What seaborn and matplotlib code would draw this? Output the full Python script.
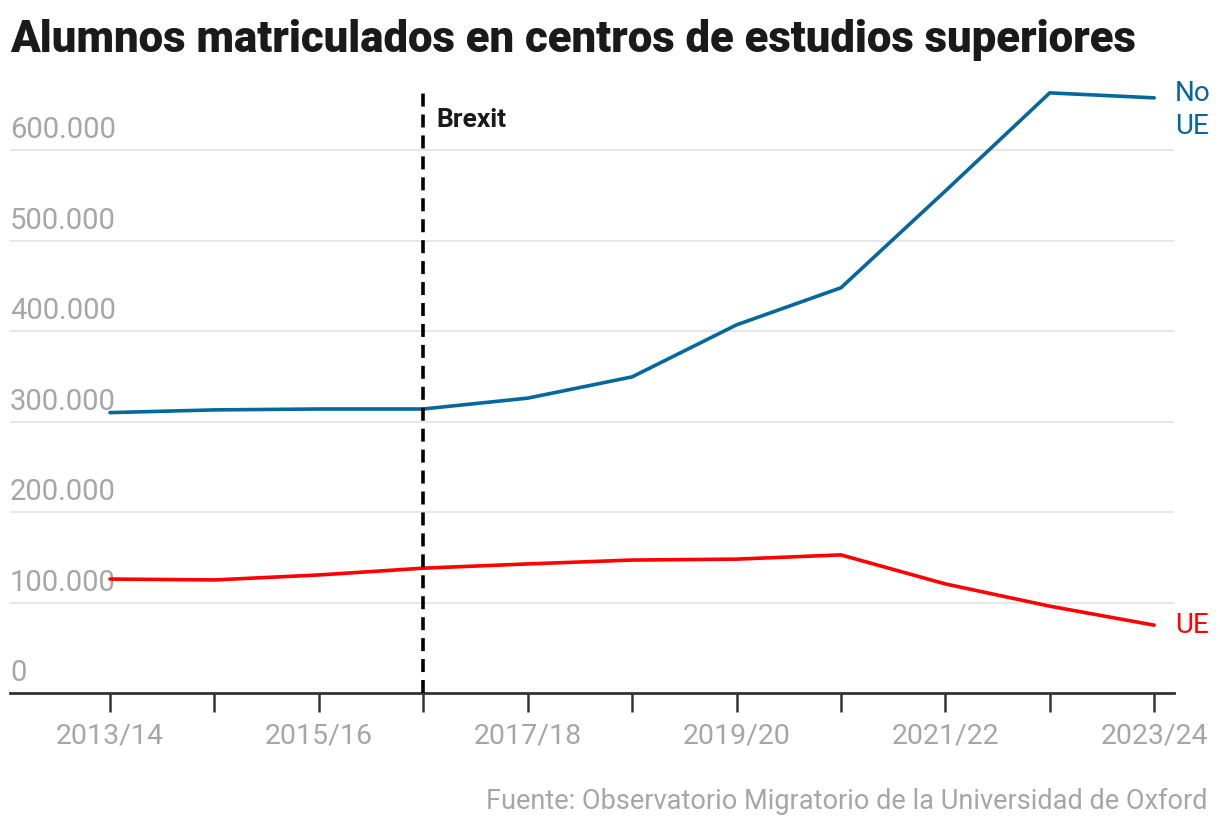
import numpy as np
import pandas as pd
import matplotlib
matplotlib.use("Agg")
import matplotlib.pyplot as plt
import seaborn as sns

# datos
cursos = ['2013/14', '2014/15', '2015/16', '2016/17', '2017/18', '2018/19',
          '2019/20', '2020/21', '2021/22', '2022/23', '2023/24']
no_ue = [310000, 313000, 314000, 314000, 326000, 349500,
         407000, 448000, 555000, 663500, 658000]
ue = [126000, 125000, 130500, 138000, 142700, 147000,
      148000, 152700, 120600, 96000, 75000]
y_ticks = [0, 100000, 200000, 300000, 400000, 500000, 600000]
brexit_curso = '2016/17'

df = pd.DataFrame({
    'curso': cursos * 2,
    'x': list(range(len(cursos))) * 2,
    'alumnos': no_ue + ue,
    'grupo': ['No UE'] * len(cursos) + ['UE'] * len(cursos),
})

sns.set_style("white")
plt.rcParams['font.family'] = ['Roboto', 'DejaVu Sans']

azul = '#05679c'
rojo = '#ff0000'
gris = '#a6a6a6'

fig = plt.figure(figsize=(12.2, 8.3), dpi=100)
ax = fig.add_axes([10 / 1220, 137 / 830, 1164 / 1220, 606 / 830])

sns.lineplot(data=df, x='x', y='alumnos', hue='grupo',
             palette={'No UE': azul, 'UE': rojo}, linewidth=2.6,
             legend=False, ax=ax, zorder=3)

ax.set_xlim(-0.958, 10.19)
ax.set_ylim(0, 670000)

# rejilla horizontal
for v in y_ticks[1:]:
    ax.axhline(v, color='#e5e5e5', linewidth=1.3, zorder=0)
for v in y_ticks:
    ax.text(0, v + 6500, f'{v:,}'.replace(',', '.'), transform=ax.get_yaxis_transform(),
            ha='left', va='bottom', fontsize=21, color=gris, zorder=1)
ax.set_yticks([])

ax.set_xticks(range(len(cursos)))
ax.set_xticklabels([c if i % 2 == 0 else '' for i, c in enumerate(cursos)],
                   fontsize=20.5, color=gris)
ax.tick_params(axis='x', bottom=True, length=14, width=1.8, color='#333333', pad=7)

for s in ['top', 'right', 'left']:
    ax.spines[s].set_visible(False)
ax.spines['bottom'].set_color('#333333')
ax.spines['bottom'].set_linewidth(2)
ax.set_xlabel('')
ax.set_ylabel('')

# Brexit
bx = cursos.index(brexit_curso)
ax.axvline(bx, ymin=0, ymax=0.99, color='black', linestyle=(0, (3.6, 2.2)),
           linewidth=2.6, zorder=4)
ax.text(bx + 0.13, 634000, 'Brexit', fontsize=19, fontweight='bold',
        color='#1a1a1a', ha='left', va='center')

# etiquetas de las series
ax.text(len(cursos) - 1 + 0.2, no_ue[-1] + 20000, 'No\nUE', fontsize=20, color=azul,
        ha='left', va='top', linespacing=1.3, clip_on=False)
ax.text(len(cursos) - 1 + 0.2, ue[-1], 'UE', fontsize=20, color=rojo,
        ha='left', va='center', clip_on=False)

fig.text(10 / 1220, 1 - 40 / 830, 'Alumnos matriculados en centros de estudios superiores',
         fontsize=31.5, fontweight='heavy', color='#1a1a1a', ha='left', va='center')
fig.text(1208 / 1220, 1 - 801 / 830, 'Fuente: Observatorio Migratorio de la Universidad de Oxford',
         fontsize=19.5, color=gris, ha='right', va='center')

fig.savefig('out.png', dpi=100, facecolor='white')
